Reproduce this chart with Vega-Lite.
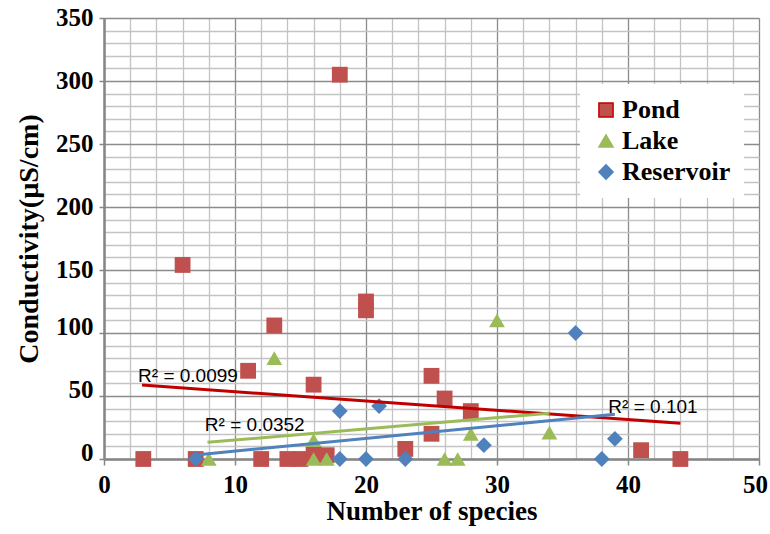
{
  "$schema": "https://vega.github.io/schema/vega-lite/v6.json",
  "autosize": "none",
  "width": 655,
  "height": 441,
  "padding": {"left": 104, "top": 18, "right": 11, "bottom": 75},
  "background": "white",
  "datasets": {
    "points": [
      {"series": "Pond", "species": 3, "conductivity": 0},
      {"series": "Pond", "species": 6, "conductivity": 154},
      {"series": "Pond", "species": 7, "conductivity": 0},
      {"series": "Pond", "species": 11, "conductivity": 70},
      {"series": "Pond", "species": 12, "conductivity": 0},
      {"series": "Pond", "species": 13, "conductivity": 106},
      {"series": "Pond", "species": 14, "conductivity": 0},
      {"series": "Pond", "species": 15, "conductivity": 0},
      {"series": "Pond", "species": 16, "conductivity": 59},
      {"series": "Pond", "species": 16, "conductivity": 4},
      {"series": "Pond", "species": 17, "conductivity": 3},
      {"series": "Pond", "species": 18, "conductivity": 305},
      {"series": "Pond", "species": 20, "conductivity": 125},
      {"series": "Pond", "species": 20, "conductivity": 118},
      {"series": "Pond", "species": 23, "conductivity": 8},
      {"series": "Pond", "species": 25, "conductivity": 66},
      {"series": "Pond", "species": 25, "conductivity": 20},
      {"series": "Pond", "species": 26, "conductivity": 48},
      {"series": "Pond", "species": 28, "conductivity": 38},
      {"series": "Pond", "species": 41, "conductivity": 7},
      {"series": "Pond", "species": 44, "conductivity": 0},
      {"series": "Lake", "species": 8, "conductivity": 0},
      {"series": "Lake", "species": 13, "conductivity": 80},
      {"series": "Lake", "species": 16, "conductivity": 15},
      {"series": "Lake", "species": 16, "conductivity": 0},
      {"series": "Lake", "species": 17, "conductivity": 0},
      {"series": "Lake", "species": 26, "conductivity": 0},
      {"series": "Lake", "species": 27, "conductivity": 0},
      {"series": "Lake", "species": 28, "conductivity": 20},
      {"series": "Lake", "species": 30, "conductivity": 110},
      {"series": "Lake", "species": 34, "conductivity": 21},
      {"series": "Reservoir", "species": 7, "conductivity": 0},
      {"series": "Reservoir", "species": 18, "conductivity": 38},
      {"series": "Reservoir", "species": 18, "conductivity": 0},
      {"series": "Reservoir", "species": 20, "conductivity": 0},
      {"series": "Reservoir", "species": 21, "conductivity": 42},
      {"series": "Reservoir", "species": 23, "conductivity": 0},
      {"series": "Reservoir", "species": 29, "conductivity": 11},
      {"series": "Reservoir", "species": 36, "conductivity": 100},
      {"series": "Reservoir", "species": 38, "conductivity": 0},
      {"series": "Reservoir", "species": 39, "conductivity": 16}
    ],
    "trends": [
      {"series": "Pond", "species": 2.9, "conductivity": 58.7},
      {"series": "Pond", "species": 44, "conductivity": 28.3},
      {"series": "Lake", "species": 7.9, "conductivity": 13.2},
      {"series": "Lake", "species": 34, "conductivity": 36.3},
      {"series": "Reservoir", "species": 7, "conductivity": 3.2},
      {"series": "Reservoir", "species": 39, "conductivity": 35.5}
    ],
    "labels": [
      {"species": 2.6, "conductivity": 66, "text": "R² = 0.0099"},
      {"species": 7.7, "conductivity": 27, "text": "R² = 0.0352"},
      {"species": 38.5, "conductivity": 41.5, "text": "R² = 0.101"}
    ]
  },
  "config": {
    "view": {"stroke": null},
    "axis": {
      "labelFont": "Liberation Serif",
      "labelFontWeight": "bold",
      "labelFontSize": 25,
      "labelColor": "black",
      "titleFont": "Liberation Serif",
      "titleFontWeight": "bold",
      "titleColor": "black",
      "domainColor": "#868686",
      "domainWidth": 2.5,
      "tickColor": "#868686",
      "tickWidth": 1.5,
      "gridWidth": 1.3
    }
  },
  "encoding": {
    "x": {
      "field": "species", "type": "quantitative",
      "scale": {"domain": [0, 50], "nice": false},
      "axis": {
        "title": "Number of species",
        "titleFontSize": 27,
        "titlePadding": 1,
        "values": [0,2,4,6,8,10,12,14,16,18,20,22,24,26,28,30,32,34,36,38,40,42,44,46,48,50],
        "labelExpr": "datum.value % 10 === 0 ? datum.label : ''",
        "labelPadding": 7,
        "labelFlush": false,
        "labelOverlap": false,
        "labelOffset": {"condition": {"test": "datum.value === 50", "value": -4}, "value": 0},
        "tickSize": 6,
        "tickOpacity": {"condition": {"test": "datum.value % 10 === 0", "value": 1}, "value": 0},
        "grid": true,
        "gridColor": {"condition": {"test": "datum.value % 10 === 0", "value": "#8c8c8c"}, "value": "#c4c4c4"}
      }
    },
    "y": {
      "field": "conductivity", "type": "quantitative",
      "scale": {"domain": [0, 350], "nice": false},
      "axis": {
        "title": "Conductivity(µS/cm)",
        "titleFontSize": 28,
        "titlePadding": 12,
        "values": [0,10,20,30,40,50,60,70,80,90,100,110,120,130,140,150,160,170,180,190,200,210,220,230,240,250,260,270,280,290,300,310,320,330,340,350],
        "labelExpr": "datum.value % 50 === 0 ? datum.label : ''",
        "labelPadding": 6,
        "labelFlush": false,
        "labelOverlap": false,
        "labelOffset": {"condition": {"test": "datum.value <= 100", "value": -7}, "value": -1},
        "tickSize": 5,
        "tickOpacity": {"condition": {"test": "datum.value % 50 === 0", "value": 1}, "value": 0},
        "grid": true,
        "gridColor": {"condition": {"test": "datum.value % 50 === 0", "value": "#8c8c8c"}, "value": "#c4c4c4"}
      }
    }
  },
  "layer": [
    {
      "data": {"name": "points"},
      "mark": {"type": "point", "filled": true, "opacity": 1, "size": 250},
      "encoding": {
        "fill": {
          "field": "series", "type": "nominal",
          "scale": {"domain": ["Pond", "Lake", "Reservoir"], "range": ["#C0504D", "#9BBB59", "#4F81BD"]},
          "legend": {
            "title": null,
            "orient": "none",
            "legendX": 476,
            "legendY": 66,
            "fillColor": "white",
            "padding": 13,
            "labelFont": "Liberation Serif",
            "labelFontWeight": "bold",
            "labelFontSize": 26,
            "labelColor": "black",
            "symbolSize": 200,
            "rowPadding": 5,
            "labelOffset": 3
          }
        },
        "shape": {
          "field": "series", "type": "nominal",
          "scale": {"domain": ["Pond", "Lake", "Reservoir"], "range": ["square", "triangle-up", "diamond"]},
          "legend": {
            "title": null,
            "orient": "none",
            "legendX": 476,
            "legendY": 66,
            "fillColor": "white",
            "padding": 13,
            "labelFont": "Liberation Serif",
            "labelFontWeight": "bold",
            "labelFontSize": 26,
            "labelColor": "black",
            "symbolSize": 200,
            "rowPadding": 5,
            "labelOffset": 3
          }
        }
      }
    },
    {
      "data": {"name": "trends"},
      "mark": {"type": "line", "strokeWidth": 3},
      "encoding": {
        "detail": {"field": "series"},
        "stroke": {
          "field": "series", "type": "nominal",
          "scale": {"domain": ["Pond", "Lake", "Reservoir"], "range": ["#C00000", "#9BBB59", "#4F81BD"]},
          "legend": null
        }
      }
    },
    {
      "data": {"name": "labels"},
      "mark": {"type": "text", "align": "left", "baseline": "middle", "font": "Liberation Sans", "fontSize": 19, "color": "black"},
      "encoding": {
        "text": {"field": "text"}
      }
    }
  ]
}
